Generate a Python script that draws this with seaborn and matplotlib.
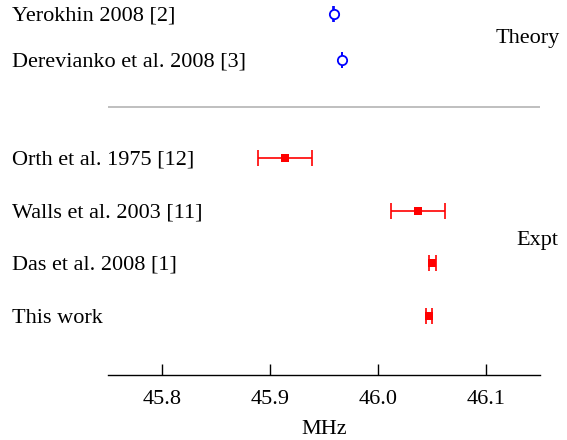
import matplotlib
matplotlib.use("Agg")
import matplotlib.pyplot as plt
import matplotlib.transforms as mtransforms
import seaborn as sns
import pandas as pd

# values (MHz)
theory_labels = ["Yerokhin 2008 [2]", "Derevianko et al. 2008 [3]"]
theory_vals = [45.9588, 45.9665]
theory_errs = [0.0006, 0.0]

expt_labels = ["Orth et al. 1975 [12]", "Walls et al. 2003 [11]",
               "Das et al. 2008 [1]", "This work"]
expt_vals = [45.914, 46.037, 46.050, 46.047]
expt_errs = [0.025, 0.025, 0.0032, 0.003]

xticks = [45.8, 45.9, 46.0, 46.1]

# layout: row positions (ylim runs 375 -> 0)
theory_rows = [14, 60]
expt_rows = [158, 211, 263, 316]
txt_shift = 2

sns.set_theme(style="white")
plt.rcParams["font.family"] = ["Liberation Serif", "DejaVu Serif"]
plt.rcParams["font.size"] = 16
plt.rcParams["text.color"] = "black"
plt.rcParams["axes.labelcolor"] = "black"
plt.rcParams["xtick.color"] = "black"

fig = plt.figure(figsize=(5.67, 4.40), dpi=100)
ax = fig.add_axes([108.3 / 567, 1 - 375 / 440, (540 - 108.3) / 567, 375 / 440])

th = pd.DataFrame({"val": theory_vals, "row": theory_rows})
ex = pd.DataFrame({"val": expt_vals, "row": expt_rows})

ax.errorbar(th["val"], th["row"], xerr=theory_errs, fmt="none",
            ecolor="blue", elinewidth=1.2, capsize=5.5, capthick=1.2)
sns.scatterplot(data=th, x="val", y="row", ax=ax, marker="o", s=45,
                facecolor="white", edgecolor="blue", linewidth=1.3, zorder=3)

ax.errorbar(ex["val"], ex["row"], xerr=expt_errs, fmt="none",
            ecolor="red", elinewidth=1.2, capsize=5.5, capthick=1.2)
sns.scatterplot(data=ex, x="val", y="row", ax=ax, marker="s", s=40,
                color="red", edgecolor="red", linewidth=0, zorder=3)

ax.axhline(107, color="#b4b4b4", lw=1.2)

ax.set_xlim(45.75, 46.15)
ax.set_ylim(375, 0)
ax.set_xticks(xticks)
ax.set_xticklabels([f"{t:.1f}" for t in xticks])
ax.set_yticks([])
ax.set_ylabel("")
ax.set_xlabel("MHz", fontsize=16, labelpad=8)
for s in ["top", "left", "right"]:
    ax.spines[s].set_visible(False)
ax.spines["bottom"].set_color("black")
ax.spines["bottom"].set_linewidth(1.0)
ax.tick_params(axis="x", direction="in", length=8, width=1.0, color="black",
               labelcolor="black", pad=11, labelsize=16, bottom=True)

trans = mtransforms.blended_transform_factory(fig.transFigure, ax.transData)
for lab, r in zip(theory_labels + expt_labels, theory_rows + expt_rows):
    ax.text(12 / 567, r + txt_shift, lab, transform=trans, ha="left",
            va="center", fontsize=16, color="black")
ax.text(560 / 567, 37 + txt_shift, "Theory", transform=trans, ha="right",
        va="center", fontsize=16, color="black")
ax.text(558 / 567, 238 + txt_shift, "Expt", transform=trans, ha="right",
        va="center", fontsize=16, color="black")

fig.savefig("out.png", dpi=100)
